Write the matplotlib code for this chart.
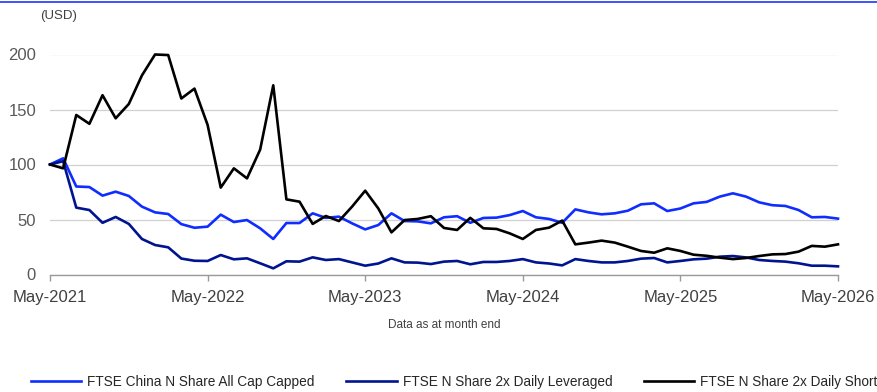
import matplotlib.pyplot as plt
from matplotlib.lines import Line2D

plt.rcParams['font.family'] = ['Liberation Sans', 'DejaVu Sans']

# monthly index values, May-2021 .. May-2026 (rebased to 100)
months = list(range(61))
year_ticks = [0, 12, 24, 36, 48, 60]
year_labels = ['May-2021', 'May-2022', 'May-2023', 'May-2024', 'May-2025', 'May-2026']

china_capped = [100, 105.6, 80, 79.5, 71.7, 75.3, 71.4, 61.7, 56.5, 55, 45.8,
                42.5, 43.5, 54.4, 47.7, 49.5, 42, 32.3, 46.8, 46.8, 55.6,
                51.5, 52.6, 46.5, 41, 45, 55.6, 48.6, 48.3, 46.5, 52,
                53, 47, 51.4, 51.7, 54, 57.7, 52, 50.5, 47, 59.2,
                56.5, 54.7, 55.6, 58, 63.8, 64.7, 57.7, 60, 64.7, 66,
                70.8, 73.8, 70.8, 65.6, 63, 62.3, 58.6, 52, 52.3, 50.8]

leveraged_2x = [100, 103, 60.8, 58.6, 47, 52.3, 46, 32.3, 26.8, 24.7, 14.5,
                12.5, 12.3, 17.7, 13.8, 14.7, 10.2, 5.6, 12, 11.7, 15.6,
                13.2, 14, 11, 8, 10, 14.7, 11, 10.8, 9.5, 11.7,
                12.3, 9.3, 11.4, 11.4, 12.3, 14, 11, 10, 8.3, 14,
                12.3, 11, 11, 12.3, 14.4, 15, 11, 12.3, 13.8, 14.4,
                16.2, 16.8, 15.5, 13.2, 12.3, 11.7, 10.2, 8, 8, 7.4]

short_2x = [100, 96.5, 145, 137, 163, 142, 155, 181, 200, 199.5, 160,
            169, 136, 79, 96.5, 87.4, 113.5, 172, 68.3, 66.2, 46,
            53.2, 48.6, 61.7, 76.2, 60, 38.3, 49.5, 50.5, 53, 42.3,
            40.5, 51.5, 42, 41.4, 37.4, 32.3, 40.5, 42.6, 49, 27.4,
            29, 30.8, 29, 25.3, 21.4, 19.8, 23.8, 21.4, 18, 17,
            15.3, 14, 15, 16.8, 18.3, 18.6, 20.8, 26, 25.3, 27.4]

W, H = 878, 392
fig = plt.figure(figsize=(W / 100, H / 100), dpi=100)
ax = fig.add_axes([50 / W, (H - 274.5) / H, 788 / W, 220 / H])

ax.plot(months, china_capped, color='#0f2dff', lw=1.9, clip_on=False,
        label='FTSE China N Share All Cap Capped')
ax.plot(months, leveraged_2x, color='#00148f', lw=1.9, clip_on=False,
        label='FTSE N Share 2x Daily Leveraged')
ax.plot(months, short_2x, color='#000000', lw=1.9, clip_on=False,
        label='FTSE N Share 2x Daily Short')

ax.set_xlim(0, 60)
ax.set_ylim(0, 200)
ax.set_yticks([0, 50, 100, 150, 200])
ax.set_xticks(year_ticks)
ax.set_xticklabels(year_labels)
ax.grid(axis='y', color='#d0d0d0', lw=0.9)
ax.set_axisbelow(True)

for side in ['top', 'right', 'left']:
    ax.spines[side].set_visible(False)
ax.spines['bottom'].set_color('#9a9a9a')
ax.spines['bottom'].set_linewidth(1.0)
ax.tick_params(axis='x', colors='#9a9a9a', length=4, width=1.0,
               labelcolor='#404040', labelsize=12, pad=7)
ax.tick_params(axis='y', length=0, labelcolor='#595959', labelsize=12, pad=10)

fig.text(40 / W, 1 - 16 / H, '(USD)', fontsize=9.5, color='#404040', va='center')
fig.text(444 / W, 1 - 325 / H, 'Data as at month end', fontsize=8.5,
         color='#404040', ha='center', va='center')

# thin blue rule along the top edge
fig.add_artist(Line2D([0, 1], [1 - 2.0 / H, 1 - 2.0 / H], color='#0a24ff', lw=1.1))

fig.legend(loc='center left', bbox_to_anchor=(31 / W, 10 / H), ncol=3,
           frameon=False, fontsize=9.8, handlelength=3.7, handletextpad=0.45,
           columnspacing=2.3, borderpad=0, borderaxespad=0,
           labelcolor='#262626')

fig.savefig('out.png', dpi=100)
